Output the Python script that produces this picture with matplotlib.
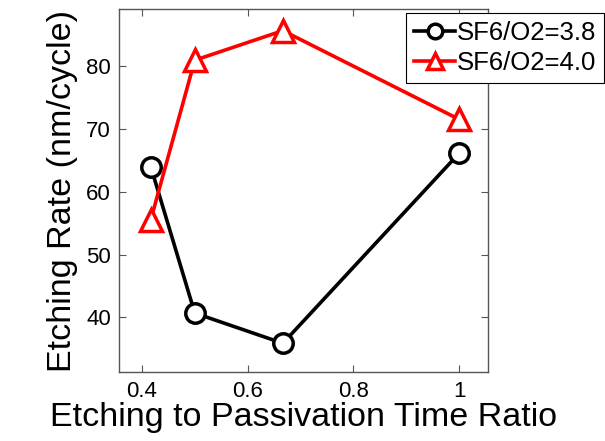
import matplotlib
matplotlib.use("Agg")
import matplotlib.pyplot as plt

plt.rcParams["font.family"] = ["Liberation Sans", "DejaVu Sans"]

ratio = [5 / 12, 0.5, 2 / 3, 1.0]
rate_38 = [64.0, 40.7, 35.9, 66.1]
rate_40 = [55.5, 80.9, 85.6, 71.5]
labels = ["SF6/O2=3.8", "SF6/O2=4.0"]

fig = plt.figure(figsize=(6.05, 4.41), dpi=100)
ax = fig.add_axes([0.197, 0.156, 0.609, 0.823])

ax.plot(ratio, rate_38, color="black", lw=2.6, marker="o", ms=14,
        mfc="white", mec="black", mew=2.5, label=labels[0])
ax.plot(ratio, rate_40, color="red", lw=2.6, marker="^", ms=16,
        mfc="white", mec="red", mew=2.5, label=labels[1])

ax.set_xlim(0.357, 1.054)
ax.set_ylim(31.3, 89)
ax.set_xticks([0.4, 0.6, 0.8, 1.0])
ax.set_xticklabels(["0.4", "0.6", "0.8", "1"])
ax.set_yticks([40, 50, 60, 70, 80])
ax.tick_params(direction="in", top=True, right=True, length=5, width=0.8,
               color="#555555", labelsize=16, pad=6)
for s in ax.spines.values():
    s.set_color("#555555")
    s.set_linewidth(1.0)

ax.set_xlabel("Etching to Passivation Time Ratio", fontsize=24.5, labelpad=0)
ax.set_ylabel("Etching Rate (nm/cycle)", fontsize=24.5, labelpad=6)

leg = fig.legend(loc="upper right", bbox_to_anchor=(603.5 / 605, 1 - 13 / 441),
                 borderaxespad=0, fontsize=18.5, handlelength=1.6,
                 handletextpad=0.05, borderpad=0.3, labelspacing=0.25,
                 fancybox=False, framealpha=1, markerscale=0.75)
leg.get_frame().set_edgecolor("black")
leg.get_frame().set_linewidth(0.8)

fig.savefig("out.png", dpi=100)
